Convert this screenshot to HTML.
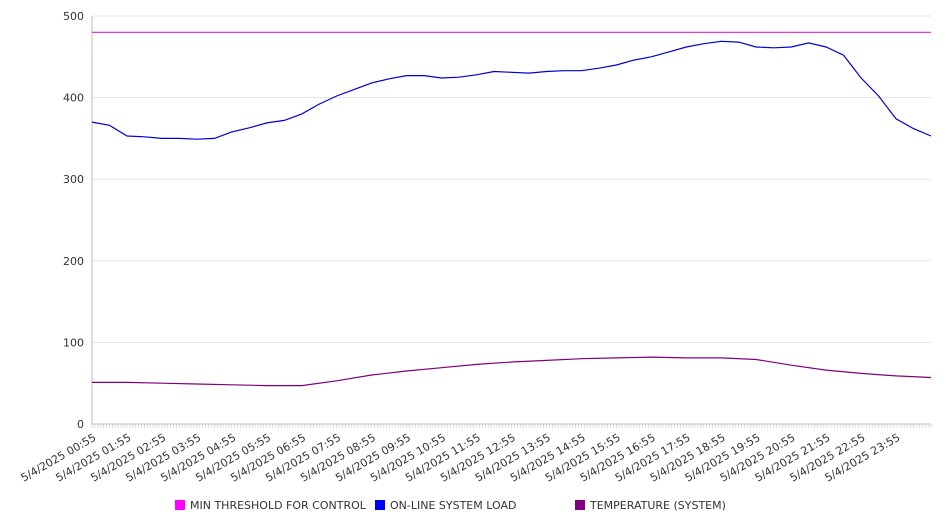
<!DOCTYPE html>
<html><head><meta charset="utf-8"><style>
body{margin:0;background:#fff;font-family:"DejaVu Sans","Liberation Sans",sans-serif}
</style></head><body>
<svg id="c" width="946" height="526" style="display:block"></svg>
<script>
const hourLabels=["00:55","01:55","02:55","03:55","04:55","05:55","06:55","07:55","08:55","09:55","10:55","11:55","12:55","13:55","14:55","15:55","16:55","17:55","18:55","19:55","20:55","21:55","22:55","23:55"];
const yTicks=[0,100,200,300,400,500];
const threshold=[480,480];
const loadValues=[370,366,353,352,350,350,349,350,358,363,369,372,380,392,402,410,418,423,427,427,424,425,428,432,431,430,432,433,433,436,440,446,450,456,462,466,469,468,462,461,462,467,462,452,424,402,374,362,353];
const tempValues=[51,51,50,49,48,47,47,53,60,65,69,73,76,78,80,81,82,81,81,79,72,66,62,59,57];
const NS="http://www.w3.org/2000/svg",svg=document.getElementById('c');
const X0=92,X1=931,Y0=424,Y1=16;
const xs=h=>X0+(X1-X0)*h/24, ys=v=>Y0-(Y0-Y1)*v/500;
function mk(t,a,p){const e=document.createElementNS(NS,t);for(const k in a)e.setAttribute(k,a[k]);(p||svg).appendChild(e);return e;}
yTicks.forEach(v=>{
 const g=mk('line',{x1:X0,x2:X1,y1:ys(v),y2:ys(v),stroke:v?'#e6e6e6':'#bbb'});
 
 
 const t=mk('text',{x:X0-8,y:ys(v)+4,'text-anchor':'end','font-size':11,fill:'#333'});t.textContent=v;
 
 
});
const ax=mk('line',{x1:X0,x2:X0,y1:Y1,y2:Y0,stroke:'#bbb'});


for(let i=0;i<=288;i++){const x=xs(i/12);mk('line',{x1:x,x2:x,y1:Y0,y2:Y0+4,stroke:'#ccc','stroke-width':0.7});}
hourLabels.forEach((l,i)=>{
 const x=xs(i)+1,y=Y0+9;
 const t=mk('text',{x:x,y:y,'text-anchor':'end','font-size':11,fill:'#333',transform:`rotate(-30 ${x} ${y})`,dy:'0.7em'});
 t.textContent='5/4/2025 '+l;
 
 
});
function line(vals,color,name){
 const n=vals.length-1;
 const d=vals.map((v,i)=>(i?'L':'M')+xs(24*i/n).toFixed(1)+','+ys(v).toFixed(1)).join('');
 const p=mk('path',{d:d,fill:'none',stroke:color,'stroke-width':1.2});
 
 
}
line(threshold,'#e020e0','threshold-line');
line(tempValues,'#800080','temperature-line');
line(loadValues,'#0000d0','load-line');
[["MIN THRESHOLD FOR CONTROL","#ff00ff",175],["ON-LINE SYSTEM LOAD","#0000ff",375],["TEMPERATURE (SYSTEM)","#800080",575]].forEach(([l,c,x])=>{
 const g=mk('g',{});
 
 
 mk('rect',{x:x,y:500,width:10,height:10,fill:c},g);
 const t=mk('text',{x:x+15,y:509,'font-size':11,fill:'#333'},g);t.textContent=l;
});
</script>
</body></html>
